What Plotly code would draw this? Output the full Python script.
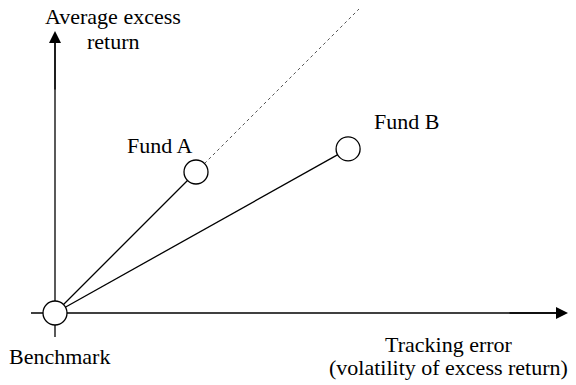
import plotly.graph_objects as go

# ---- data (tracking error, average excess return) in arbitrary units ----
names = ["Benchmark", "Fund A", "Fund B"]
tracking_error = [0.0, 4.7, 9.77]
excess_return = [0.0, 4.7, 5.47]
line_extension = 2.156   # dotted line extends Fund A's ray by this factor
axis_x_extent = [-0.8, 17.1]
axis_y_extent = [-0.8, 9.4]

W, H = 576, 385
PX = 30.0                 # pixels per unit
ORIGIN = (55, 313)        # pixel position of origin

x_range = [-ORIGIN[0] / PX, (W - ORIGIN[0]) / PX]
y_range = [(ORIGIN[1] - H) / PX, ORIGIN[1] / PX]

SERIF = "Liberation Serif"

fig = go.Figure()

# axis lines (below the markers)
fig.add_shape(type="line", x0=axis_x_extent[0], x1=axis_x_extent[1] - 0.2, y0=0, y1=0,
              xref="x", yref="y", line=dict(color="black", width=1.3), layer="below")
fig.add_shape(type="line", x0=0, x1=0, y0=axis_y_extent[0], y1=axis_y_extent[1] - 0.2,
              xref="x", yref="y", line=dict(color="black", width=1.3), layer="below")

# arrowheads
fig.add_annotation(x=axis_x_extent[1], y=0, ax=axis_x_extent[1] - 2, ay=0,
                   xref="x", yref="y", axref="x", ayref="y", text="",
                   showarrow=True, arrowhead=2, arrowsize=1.85, arrowwidth=1.3,
                   arrowcolor="black")
fig.add_annotation(x=0, y=axis_y_extent[1], ax=0, ay=axis_y_extent[1] - 2,
                   xref="x", yref="y", axref="x", ayref="y", text="",
                   showarrow=True, arrowhead=2, arrowsize=1.85, arrowwidth=1.3,
                   arrowcolor="black")

# dotted extension from benchmark through Fund A
fig.add_trace(go.Scatter(
    x=[tracking_error[1], tracking_error[1] * line_extension],
    y=[excess_return[1], excess_return[1] * line_extension],
    mode="lines", line=dict(color="#555555", width=1, dash="dot"),
    hoverinfo="skip", showlegend=False))

# solid lines benchmark -> funds
for i in (1, 2):
    fig.add_trace(go.Scatter(
        x=[tracking_error[0], tracking_error[i]],
        y=[excess_return[0], excess_return[i]],
        mode="lines", line=dict(color="black", width=1.3),
        hoverinfo="skip", showlegend=False))

# circles
fig.add_trace(go.Scatter(
    x=tracking_error, y=excess_return, mode="markers",
    marker=dict(size=24, color="white", line=dict(color="black", width=1.3)),
    hoverinfo="skip", showlegend=False))


def label(text, px, py):
    fig.add_annotation(x=px / W, y=1 - py / H, xref="paper", yref="paper",
                       text='<span style="font-family:%s">%s</span>' % (SERIF, text),
                       showarrow=False, xanchor="center", yanchor="middle",
                       font=dict(family=SERIF, size=22, color="black"))


label("Average excess", 112.5, 16.6)
label("return", 113.5, 41.6)
label("Fund A", 160, 145.6)
label("Fund B", 406.5, 121.6)
label("Benchmark", 59.5, 356.6)
label("Tracking error", 448.5, 344.6)
label("(volatility of excess return)", 448.5, 367.6)

fig.update_layout(
    width=W, height=H, margin=dict(l=0, r=0, t=0, b=0),
    font=dict(family=SERIF, size=22, color="black"),
    paper_bgcolor="white", plot_bgcolor="white",
    xaxis=dict(range=x_range, visible=False, fixedrange=True),
    yaxis=dict(range=y_range, visible=False, fixedrange=True),
    showlegend=False,
)

fig.write_html("out.html", config={"displayModeBar": False},
               post_script="document.body.style.margin='0';")
